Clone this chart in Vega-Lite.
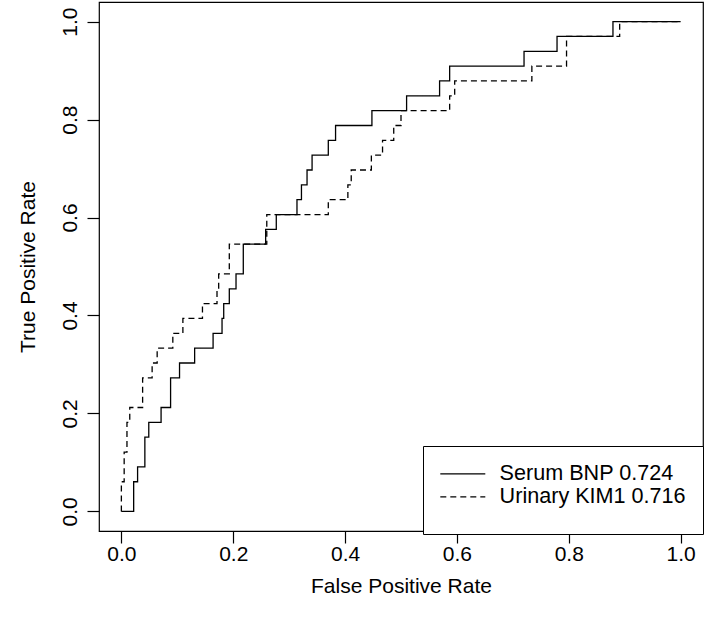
{
  "$schema": "https://vega.github.io/schema/vega-lite/v6.json",
  "width": 604,
  "height": 529,
  "autosize": {"type": "none"},
  "padding": {"left": 99, "top": 2, "right": 2, "bottom": 98},
  "background": "white",
  "config": {
    "view": {"stroke": "black", "strokeWidth": 1.2},
    "font": "Liberation Sans",
    "axis": {
      "domain": false, "grid": false, "tickColor": "black", "tickWidth": 1.2, "tickSize": 12,
      "labelFont": "Liberation Sans", "labelFontSize": 21, "labelColor": "black",
      "titleFont": "Liberation Sans", "titleFontSize": 21, "titleFontWeight": "normal", "titleColor": "black"
    }
  },
  "data": {"values": [
    {"s":"Serum BNP 0.724","i":1,"x":0,"y":0},
    {"s":"Serum BNP 0.724","i":2,"x":0.022,"y":0},
    {"s":"Serum BNP 0.724","i":3,"x":0.022,"y":0.0606},
    {"s":"Serum BNP 0.724","i":4,"x":0.029,"y":0.0606},
    {"s":"Serum BNP 0.724","i":5,"x":0.029,"y":0.0909},
    {"s":"Serum BNP 0.724","i":6,"x":0.042,"y":0.0909},
    {"s":"Serum BNP 0.724","i":7,"x":0.042,"y":0.1515},
    {"s":"Serum BNP 0.724","i":8,"x":0.049,"y":0.1515},
    {"s":"Serum BNP 0.724","i":9,"x":0.049,"y":0.1818},
    {"s":"Serum BNP 0.724","i":10,"x":0.071,"y":0.1818},
    {"s":"Serum BNP 0.724","i":11,"x":0.071,"y":0.2121},
    {"s":"Serum BNP 0.724","i":12,"x":0.088,"y":0.2121},
    {"s":"Serum BNP 0.724","i":13,"x":0.088,"y":0.2727},
    {"s":"Serum BNP 0.724","i":14,"x":0.104,"y":0.2727},
    {"s":"Serum BNP 0.724","i":15,"x":0.104,"y":0.303},
    {"s":"Serum BNP 0.724","i":16,"x":0.131,"y":0.303},
    {"s":"Serum BNP 0.724","i":17,"x":0.131,"y":0.3333},
    {"s":"Serum BNP 0.724","i":18,"x":0.164,"y":0.3333},
    {"s":"Serum BNP 0.724","i":19,"x":0.164,"y":0.3636},
    {"s":"Serum BNP 0.724","i":20,"x":0.18,"y":0.3636},
    {"s":"Serum BNP 0.724","i":21,"x":0.18,"y":0.3939},
    {"s":"Serum BNP 0.724","i":22,"x":0.183,"y":0.3939},
    {"s":"Serum BNP 0.724","i":23,"x":0.183,"y":0.4242},
    {"s":"Serum BNP 0.724","i":24,"x":0.193,"y":0.4242},
    {"s":"Serum BNP 0.724","i":25,"x":0.193,"y":0.4545},
    {"s":"Serum BNP 0.724","i":26,"x":0.205,"y":0.4545},
    {"s":"Serum BNP 0.724","i":27,"x":0.205,"y":0.4848},
    {"s":"Serum BNP 0.724","i":28,"x":0.218,"y":0.4848},
    {"s":"Serum BNP 0.724","i":29,"x":0.218,"y":0.5455},
    {"s":"Serum BNP 0.724","i":30,"x":0.258,"y":0.5455},
    {"s":"Serum BNP 0.724","i":31,"x":0.258,"y":0.5758},
    {"s":"Serum BNP 0.724","i":32,"x":0.277,"y":0.5758},
    {"s":"Serum BNP 0.724","i":33,"x":0.277,"y":0.6061},
    {"s":"Serum BNP 0.724","i":34,"x":0.314,"y":0.6061},
    {"s":"Serum BNP 0.724","i":35,"x":0.314,"y":0.6364},
    {"s":"Serum BNP 0.724","i":36,"x":0.322,"y":0.6364},
    {"s":"Serum BNP 0.724","i":37,"x":0.322,"y":0.6667},
    {"s":"Serum BNP 0.724","i":38,"x":0.332,"y":0.6667},
    {"s":"Serum BNP 0.724","i":39,"x":0.332,"y":0.697},
    {"s":"Serum BNP 0.724","i":40,"x":0.341,"y":0.697},
    {"s":"Serum BNP 0.724","i":41,"x":0.341,"y":0.7273},
    {"s":"Serum BNP 0.724","i":42,"x":0.37,"y":0.7273},
    {"s":"Serum BNP 0.724","i":43,"x":0.37,"y":0.7576},
    {"s":"Serum BNP 0.724","i":44,"x":0.383,"y":0.7576},
    {"s":"Serum BNP 0.724","i":45,"x":0.383,"y":0.7879},
    {"s":"Serum BNP 0.724","i":46,"x":0.448,"y":0.7879},
    {"s":"Serum BNP 0.724","i":47,"x":0.448,"y":0.8182},
    {"s":"Serum BNP 0.724","i":48,"x":0.51,"y":0.8182},
    {"s":"Serum BNP 0.724","i":49,"x":0.51,"y":0.8485},
    {"s":"Serum BNP 0.724","i":50,"x":0.569,"y":0.8485},
    {"s":"Serum BNP 0.724","i":51,"x":0.569,"y":0.8788},
    {"s":"Serum BNP 0.724","i":52,"x":0.587,"y":0.8788},
    {"s":"Serum BNP 0.724","i":53,"x":0.587,"y":0.9091},
    {"s":"Serum BNP 0.724","i":54,"x":0.72,"y":0.9091},
    {"s":"Serum BNP 0.724","i":55,"x":0.72,"y":0.9394},
    {"s":"Serum BNP 0.724","i":56,"x":0.779,"y":0.9394},
    {"s":"Serum BNP 0.724","i":57,"x":0.779,"y":0.9697},
    {"s":"Serum BNP 0.724","i":58,"x":0.879,"y":0.9697},
    {"s":"Serum BNP 0.724","i":59,"x":0.879,"y":1},
    {"s":"Serum BNP 0.724","i":60,"x":1,"y":1},
    {"s":"Urinary KIM1 0.716","i":1,"x":0,"y":0},
    {"s":"Urinary KIM1 0.716","i":2,"x":0,"y":0.0606},
    {"s":"Urinary KIM1 0.716","i":3,"x":0.005,"y":0.0606},
    {"s":"Urinary KIM1 0.716","i":4,"x":0.005,"y":0.1212},
    {"s":"Urinary KIM1 0.716","i":5,"x":0.01,"y":0.1212},
    {"s":"Urinary KIM1 0.716","i":6,"x":0.01,"y":0.1818},
    {"s":"Urinary KIM1 0.716","i":7,"x":0.015,"y":0.1818},
    {"s":"Urinary KIM1 0.716","i":8,"x":0.015,"y":0.2121},
    {"s":"Urinary KIM1 0.716","i":9,"x":0.038,"y":0.2121},
    {"s":"Urinary KIM1 0.716","i":10,"x":0.038,"y":0.2727},
    {"s":"Urinary KIM1 0.716","i":11,"x":0.055,"y":0.2727},
    {"s":"Urinary KIM1 0.716","i":12,"x":0.055,"y":0.303},
    {"s":"Urinary KIM1 0.716","i":13,"x":0.064,"y":0.303},
    {"s":"Urinary KIM1 0.716","i":14,"x":0.064,"y":0.3333},
    {"s":"Urinary KIM1 0.716","i":15,"x":0.092,"y":0.3333},
    {"s":"Urinary KIM1 0.716","i":16,"x":0.092,"y":0.3636},
    {"s":"Urinary KIM1 0.716","i":17,"x":0.11,"y":0.3636},
    {"s":"Urinary KIM1 0.716","i":18,"x":0.11,"y":0.3939},
    {"s":"Urinary KIM1 0.716","i":19,"x":0.145,"y":0.3939},
    {"s":"Urinary KIM1 0.716","i":20,"x":0.145,"y":0.4242},
    {"s":"Urinary KIM1 0.716","i":21,"x":0.171,"y":0.4242},
    {"s":"Urinary KIM1 0.716","i":22,"x":0.171,"y":0.4545},
    {"s":"Urinary KIM1 0.716","i":23,"x":0.174,"y":0.4545},
    {"s":"Urinary KIM1 0.716","i":24,"x":0.174,"y":0.4848},
    {"s":"Urinary KIM1 0.716","i":25,"x":0.193,"y":0.4848},
    {"s":"Urinary KIM1 0.716","i":26,"x":0.193,"y":0.5455},
    {"s":"Urinary KIM1 0.716","i":27,"x":0.26,"y":0.5455},
    {"s":"Urinary KIM1 0.716","i":28,"x":0.26,"y":0.6061},
    {"s":"Urinary KIM1 0.716","i":29,"x":0.37,"y":0.6061},
    {"s":"Urinary KIM1 0.716","i":30,"x":0.37,"y":0.6364},
    {"s":"Urinary KIM1 0.716","i":31,"x":0.405,"y":0.6364},
    {"s":"Urinary KIM1 0.716","i":32,"x":0.405,"y":0.6667},
    {"s":"Urinary KIM1 0.716","i":33,"x":0.411,"y":0.6667},
    {"s":"Urinary KIM1 0.716","i":34,"x":0.411,"y":0.697},
    {"s":"Urinary KIM1 0.716","i":35,"x":0.447,"y":0.697},
    {"s":"Urinary KIM1 0.716","i":36,"x":0.447,"y":0.7273},
    {"s":"Urinary KIM1 0.716","i":37,"x":0.467,"y":0.7273},
    {"s":"Urinary KIM1 0.716","i":38,"x":0.467,"y":0.7576},
    {"s":"Urinary KIM1 0.716","i":39,"x":0.487,"y":0.7576},
    {"s":"Urinary KIM1 0.716","i":40,"x":0.487,"y":0.7879},
    {"s":"Urinary KIM1 0.716","i":41,"x":0.5,"y":0.7879},
    {"s":"Urinary KIM1 0.716","i":42,"x":0.5,"y":0.8182},
    {"s":"Urinary KIM1 0.716","i":43,"x":0.587,"y":0.8182},
    {"s":"Urinary KIM1 0.716","i":44,"x":0.587,"y":0.8485},
    {"s":"Urinary KIM1 0.716","i":45,"x":0.596,"y":0.8485},
    {"s":"Urinary KIM1 0.716","i":46,"x":0.596,"y":0.8788},
    {"s":"Urinary KIM1 0.716","i":47,"x":0.734,"y":0.8788},
    {"s":"Urinary KIM1 0.716","i":48,"x":0.734,"y":0.9091},
    {"s":"Urinary KIM1 0.716","i":49,"x":0.796,"y":0.9091},
    {"s":"Urinary KIM1 0.716","i":50,"x":0.796,"y":0.9697},
    {"s":"Urinary KIM1 0.716","i":51,"x":0.891,"y":0.9697},
    {"s":"Urinary KIM1 0.716","i":52,"x":0.891,"y":1},
    {"s":"Urinary KIM1 0.716","i":53,"x":1,"y":1}
  ]},
  "mark": {"type": "line", "color": "black", "strokeWidth": 1.3},
  "encoding": {
    "x": {
      "field": "x", "type": "quantitative",
      "scale": {"domain": [-0.04, 1.04], "nice": false, "zero": false},
      "axis": {"values": [0, 0.2, 0.4, 0.6, 0.8, 1], "format": ".1f", "labelPadding": 0, "titlePadding": 11, "title": "False Positive Rate"}
    },
    "y": {
      "field": "y", "type": "quantitative",
      "scale": {"domain": [-0.04, 1.04], "nice": false, "zero": false},
      "axis": {"values": [0, 0.2, 0.4, 0.6, 0.8, 1], "format": ".1f", "labelAngle": 270, "labelAlign": "center", "labelBaseline": "bottom", "labelPadding": 7, "titlePadding": 21, "title": "True Positive Rate"}
    },
    "order": {"field": "i", "type": "quantitative"},
    "strokeDash": {
      "field": "s", "type": "nominal",
      "scale": {"domain": ["Serum BNP 0.724", "Urinary KIM1 0.716"], "range": [[1, 0], [6, 4]]},
      "legend": {
        "title": " ", "titleOrient": "bottom", "titleFontSize": 10, "titlePadding": 0,
        "orient": "none", "legendX": 324, "legendY": 444,
        "padding": 17, "fillColor": "white", "strokeColor": "black", "cornerRadius": 0,
        "symbolType": "M-5,0H5", "symbolSize": 81, "symbolStrokeColor": "black", "symbolStrokeWidth": 1.3, "symbolFillColor": "transparent",
        "symbolOffset": 12, "labelOffset": 26, "rowPadding": 0,
        "labelFont": "Liberation Sans", "labelFontSize": 21.6, "labelColor": "black", "labelLimit": 400
      }
    }
  }
}
